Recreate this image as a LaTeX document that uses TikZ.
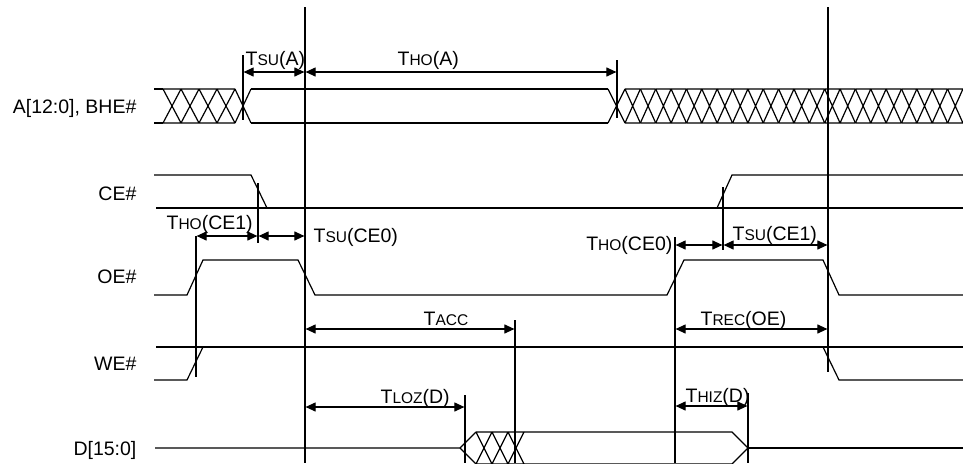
\documentclass[tikz,border=0pt]{standalone}
\usepackage{fontspec}
\setmainfont{Liberation Sans}
\usetikzlibrary{arrows.meta}
\newcommand\tlab[2]{T{\fontsize{15.5}{18}\selectfont #1}#2}
\begin{document}
\begin{tikzpicture}[x=1pt,y=-1pt,line width=1.2pt,
  sig/.style={line join=miter},
  mark line/.style={line width=1.1pt},
  dim/.style={{Triangle[length=10pt,width=9pt]}-{Triangle[length=10pt,width=9pt]},line width=1.1pt,shorten <=0.6pt,shorten >=0.6pt},
  lab/.style={font=\fontsize{19.5}{23}\selectfont,inner sep=0pt}]
\useasboundingbox (0,0) rectangle (963,463);
\clip (0,0) rectangle (963,463);
% ---- signal names
\node[lab,anchor=base east] (nA) at (137,113) {A[12:0], BHE\#};
\node[lab,anchor=base east] (nCE) at (137,200) {CE\#};
\node[lab,anchor=base east] (nOE) at (137,283) {OE\#};
\node[lab,anchor=base east] (nWE) at (137,370) {WE\#};
\node[lab,anchor=base east] (nD) at (137,455) {D[15:0]};
% ---- A bus
\draw[sig] (154,89)--(163,89) (154,123)--(163,123);
\foreach \i in {0,...,3}{
  \pgfmathsetmacro\a{163+18*\i}\pgfmathsetmacro\b{\a+18}
  \draw[sig] (\a,89)--(\b,123) (\a,123)--(\b,89) (\a,89)--(\b,89) (\a,123)--(\b,123);}
\draw[sig] (235,89)--(251,123) (235,123)--(251,89);
\draw[sig] (251,89)--(608,89) (251,123)--(608,123);
\draw[sig] (608,89)--(625,123) (608,123)--(625,89);
\foreach \i in {0,...,21}{
  \pgfmathsetmacro\a{625+15.36*\i}\pgfmathsetmacro\b{\a+15.36}
  \draw[sig] (\a,89)--(\b,123) (\a,123)--(\b,89) (\a,89)--(\b,89) (\a,123)--(\b,123);}
% ---- CE#
\draw[sig] (154,175)--(251,175)--(267,208);
\draw[sig] (156,208)--(963,208);
\draw[sig] (717,208)--(732,175)--(963,175);
% ---- OE#
\draw[sig] (154,295)--(187,295)--(203,260)--(298,260)--(315,295)--(667,295)--(684,260)--(823,260)--(839,295)--(963,295);
% ---- WE#
\draw[sig] (154,380)--(187,380)--(203,347);
\draw[sig] (156,347)--(963,347);
\draw[sig] (823,347)--(839,380)--(963,380);
% ---- D bus
\draw[sig] (155,448)--(460,448)--(476,432) (460,448)--(476,464);
\foreach \i in {0,...,2}{
  \pgfmathsetmacro\a{476+16*\i}\pgfmathsetmacro\b{\a+16}
  \draw[sig] (\a,432)--(\b,464) (\a,464)--(\b,432) (\a,432)--(\b,432) (\a,464)--(\b,464);}
\draw[sig] (524,432)--(732,432)--(748,448)--(732,464)--(524,464);
\draw[sig] (748,448)--(963,448);
% ---- reference / marker lines
\coordinate (v1t) at (305,7);   \coordinate (v1b) at (305,463);
\coordinate (v2t) at (828,7);   \coordinate (v2b) at (828,372);
\coordinate (mAt) at (243,55);  \coordinate (mAb) at (243,120);
\coordinate (mHt) at (617,60);  \coordinate (mHb) at (617,118);
\coordinate (mCt) at (258,183); \coordinate (mCb) at (258,243);
\coordinate (mRt) at (723,187); \coordinate (mRb) at (723,250);
\coordinate (mOt) at (196,236); \coordinate (mOb) at (196,377);
\coordinate (mPt) at (675,237); \coordinate (mPb) at (675,463);
\coordinate (mTt) at (515,320); \coordinate (mTb) at (515,463);
\coordinate (mLt) at (465,395); \coordinate (mLb) at (465,463);
\coordinate (mZt) at (748,393); \coordinate (mZb) at (748,463);
\foreach \p in {v1,v2,mA,mH,mC,mR,mO,mP,mT,mL,mZ}{\draw[mark line] (\p t)--(\p b);}
% ---- dimension arrows
\coordinate (a1) at (243,72);  \coordinate (a2) at (305,72);  \coordinate (a3) at (617,72);
\coordinate (b1) at (196,236); \coordinate (b2) at (258,236); \coordinate (b3) at (305,236);
\coordinate (c1) at (675,245); \coordinate (c2) at (723,245); \coordinate (c3) at (828,245);
\coordinate (d1) at (305,329); \coordinate (d2) at (515,329);
\coordinate (e1) at (675,329); \coordinate (e2) at (828,329);
\coordinate (f1) at (305,407); \coordinate (f2) at (465,407);
\coordinate (g1) at (675,406); \coordinate (g2) at (748,406);
\draw[dim] (a1)--(a2); \draw[dim] (a2)--(a3);
\draw[dim] (b1)--(b2); \draw[dim] (b2)--(b3);
\draw[dim] (c1)--(c2); \draw[dim] (c2)--(c3);
\draw[dim] (d1)--(d2); \draw[dim] (e1)--(e2);
\draw[dim] (f1)--(f2); \draw[dim] (g1)--(g2);
% ---- timing labels
\node[lab,anchor=base west] (tsua) at (245,65) {\tlab{SU}{(A)}};
\node[lab,anchor=base west] (thoa) at (397,65) {\tlab{HO}{(A)}};
\node[lab,anchor=base west] (thoce1) at (166,229) {\tlab{HO}{(CE1)}};
\node[lab,anchor=base west] (tsuce0) at (313,242) {\tlab{SU}{(CE0)}};
\node[lab,anchor=base east] (thoce0) at (673,250) {\tlab{HO}{(CE0)}};
\node[lab,anchor=base west] (tsuce1) at (732,240) {\tlab{SU}{(CE1)}};
\node[lab,anchor=base west] (tacc) at (423,325) {\tlab{ACC}{}};
\node[lab,anchor=base west] (trec) at (700,325) {\tlab{REC}{(OE)}};
\node[lab,anchor=base west] (tloz) at (380,403) {\tlab{LOZ}{(D)}};
\node[lab,anchor=base west] (thiz) at (685,402) {\tlab{HIZ}{(D)}};
\end{tikzpicture}
\end{document}
